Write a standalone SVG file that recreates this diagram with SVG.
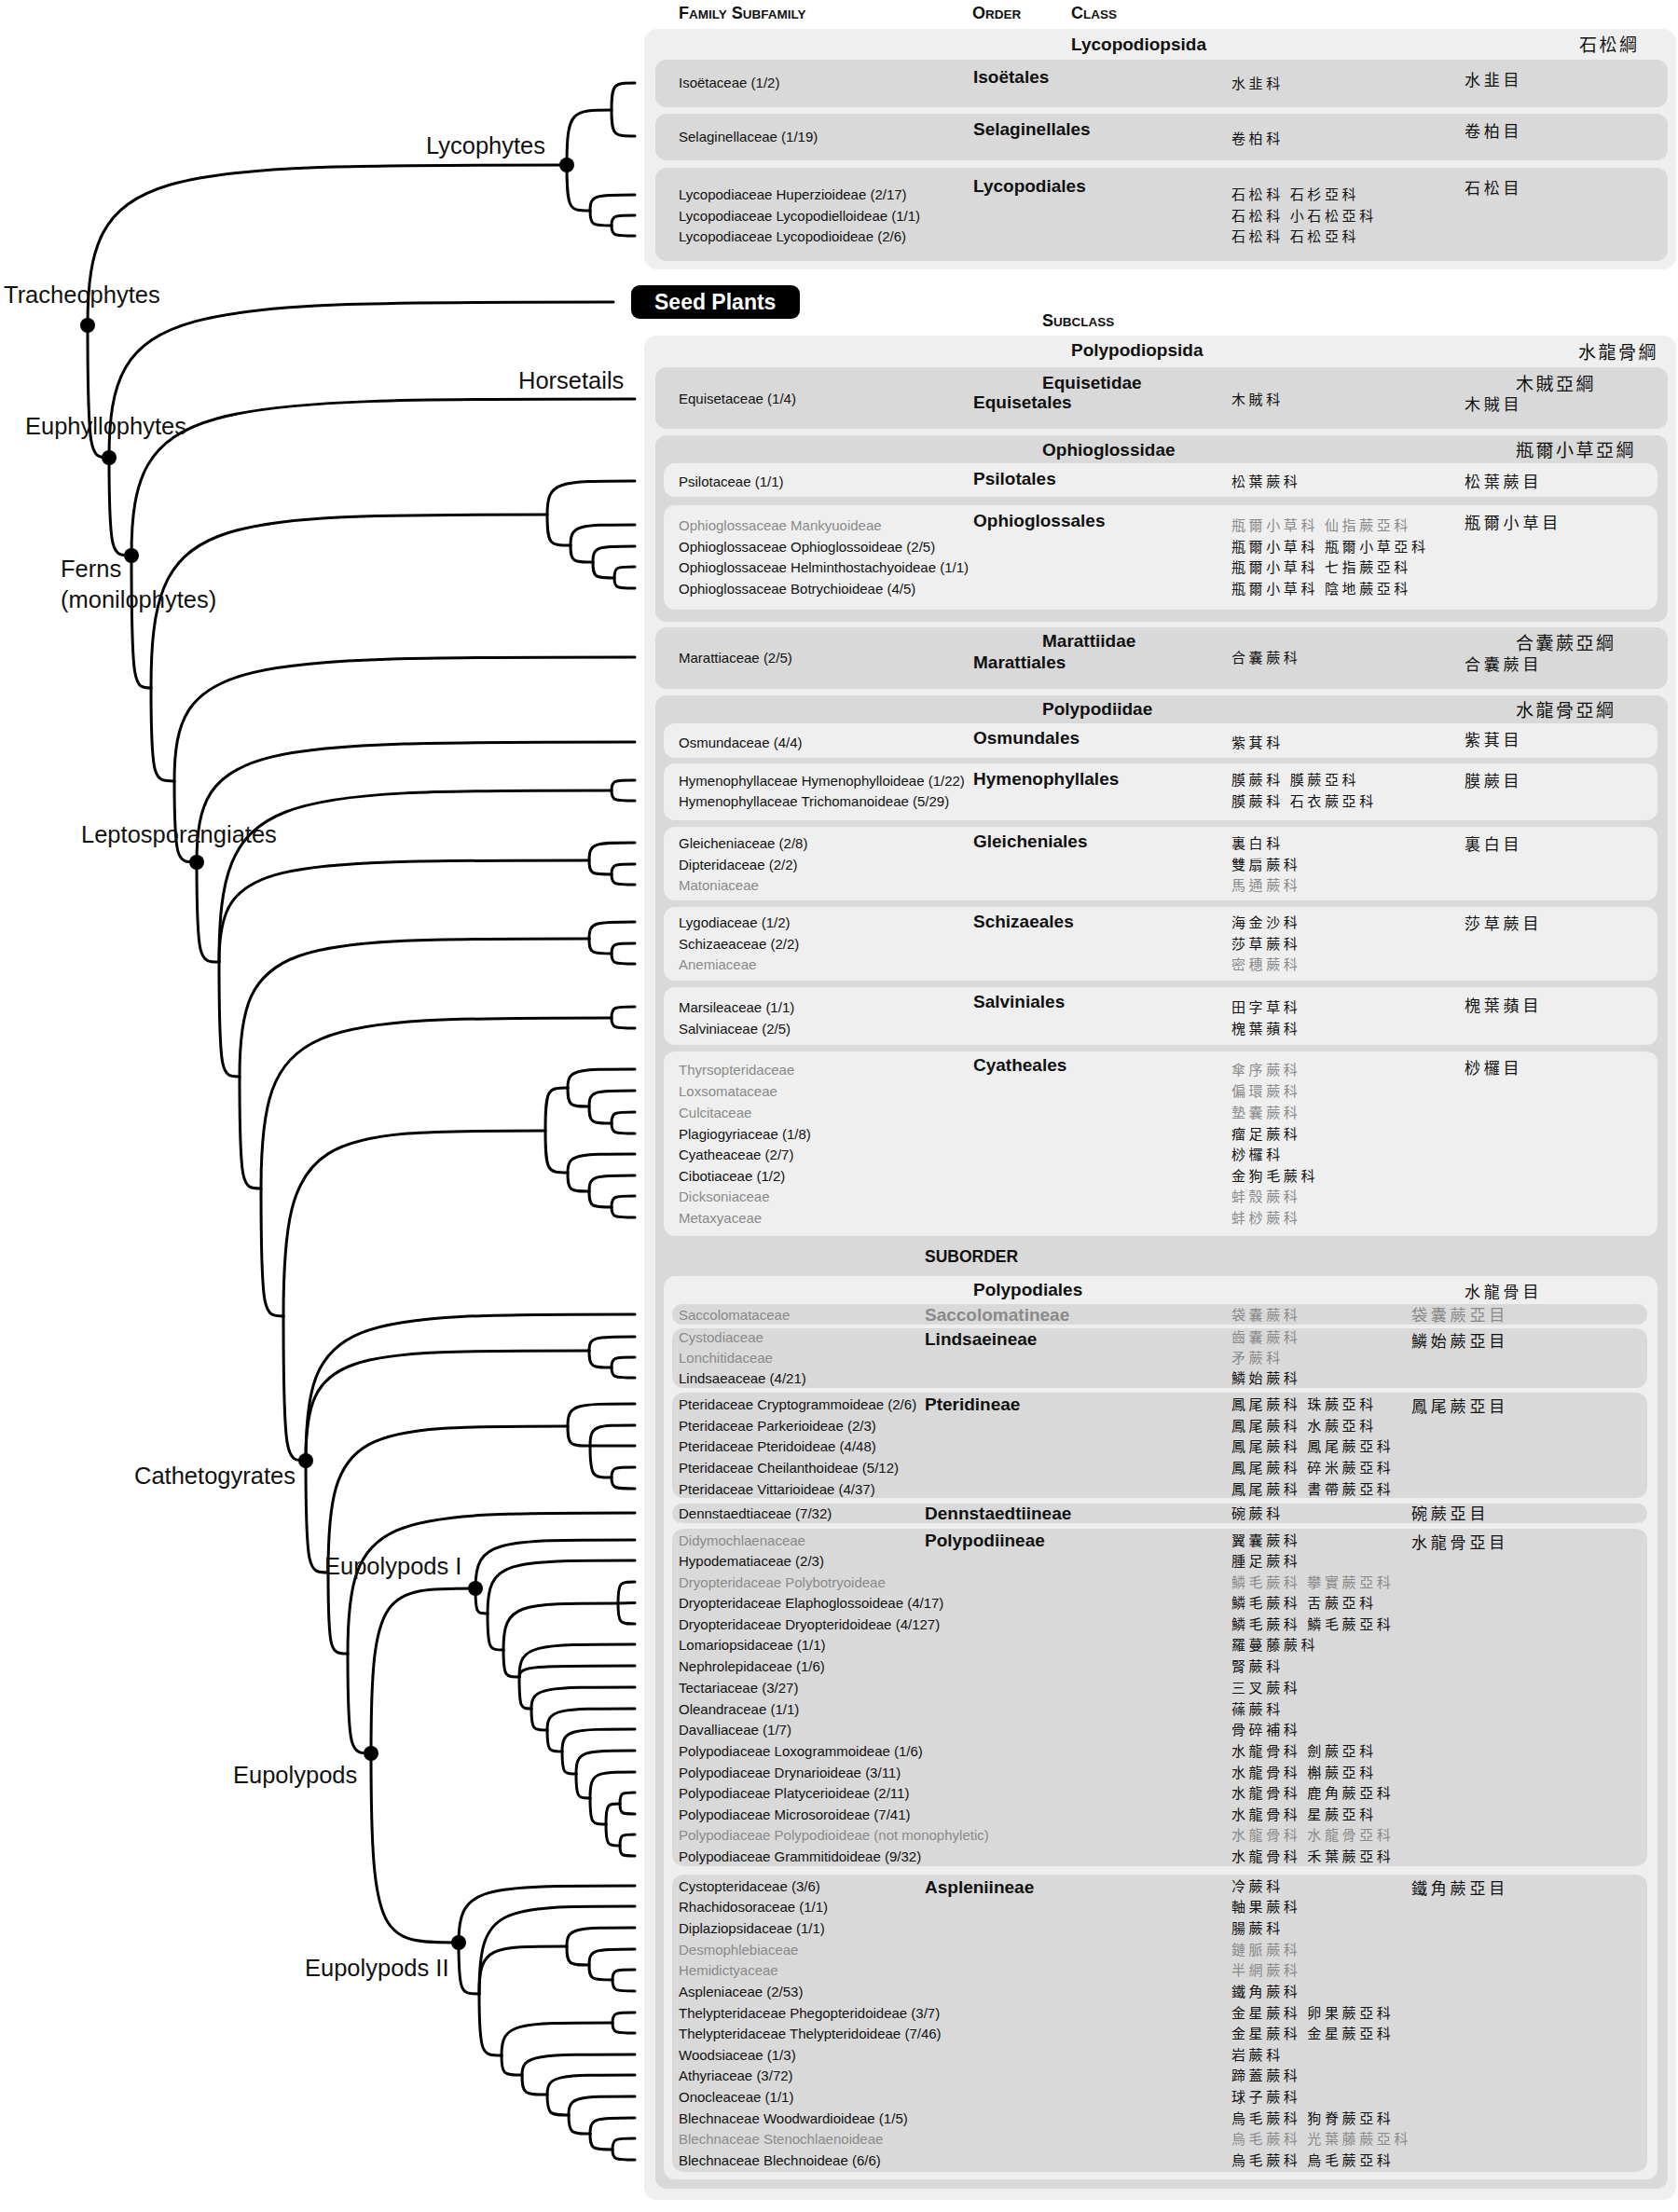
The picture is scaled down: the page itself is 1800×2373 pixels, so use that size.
<svg xmlns="http://www.w3.org/2000/svg" width="1800" height="2373" viewBox="0 0 1800 2373">
<style>
.e{fill:none;stroke:#000;stroke-width:3;stroke-linecap:round}
.dot{fill:#000}
.lab{font-family:"Liberation Sans",Arial,sans-serif;font-size:25.5px;fill:#111}
.f{font-family:"Liberation Sans",Arial,sans-serif;font-size:15px;fill:#111}
.o{font-family:"Liberation Sans",Arial,sans-serif;font-size:19px;font-weight:bold;fill:#111}
.c{font-family:"Noto Sans CJK TC","Noto Sans CJK SC",sans-serif;font-size:15px;letter-spacing:3.6px;fill:#111}
.co{font-family:"Noto Sans CJK TC","Noto Sans CJK SC",sans-serif;font-size:17px;letter-spacing:3.8px;fill:#111}
.cc{font-family:"Noto Sans CJK TC","Noto Sans CJK SC",sans-serif;font-size:19px;letter-spacing:2.5px;fill:#111}
.h{font-family:"Liberation Sans",Arial,sans-serif;font-weight:bold;fill:#111}
.outer{fill:#efefef}
.dark{fill:#d9d9d9}
.light{fill:#efefef}
.gr{fill:#8a8a8a}
</style>
<rect width="1800" height="2373" fill="#fff"/>

<g id="boxes">
<rect class="outer" x="691" y="31" width="1107" height="258" rx="14"/>
<rect class="dark" x="703" y="64" width="1086" height="51" rx="12"/>
<rect class="dark" x="703" y="122" width="1086" height="50" rx="12"/>
<rect class="dark" x="703" y="180" width="1086" height="100" rx="12"/>
<rect class="outer" x="691" y="360" width="1107" height="2000" rx="14"/>
<rect class="dark" x="703" y="394" width="1086" height="66" rx="12"/>
<rect class="dark" x="703" y="467" width="1086" height="200" rx="12"/>
<rect class="light" x="712" y="497" width="1066" height="36" rx="12"/>
<rect class="light" x="712" y="542" width="1066" height="112" rx="12"/>
<rect class="dark" x="703" y="673" width="1086" height="66" rx="12"/>
<rect class="dark" x="703" y="746" width="1086" height="1602" rx="12"/>
<rect class="light" x="712" y="776" width="1066" height="37" rx="12"/>
<rect class="light" x="712" y="819" width="1066" height="61" rx="12"/>
<rect class="light" x="712" y="887" width="1066" height="79" rx="12"/>
<rect class="light" x="712" y="973" width="1066" height="79" rx="12"/>
<rect class="light" x="712" y="1059" width="1066" height="62" rx="12"/>
<rect class="light" x="712" y="1128" width="1066" height="198" rx="12"/>
<rect class="light" x="712" y="1369" width="1066" height="969" rx="12"/>
<rect class="dark" x="721" y="1399" width="1046" height="22" rx="11"/>
<rect class="dark" x="721" y="1425" width="1046" height="64" rx="12"/>
<rect class="dark" x="721" y="1494" width="1046" height="113" rx="12"/>
<rect class="dark" x="721" y="1613" width="1046" height="21" rx="10.5"/>
<rect class="dark" x="721" y="1640" width="1046" height="362" rx="12"/>
<rect class="dark" x="721" y="2011" width="1046" height="319" rx="12"/>
</g>

<g id="headers">
<text class="h" x="728" y="20"><tspan font-size="18">F</tspan><tspan font-size="13.5">AMILY</tspan><tspan font-size="18"> S</tspan><tspan font-size="13.5">UBFAMILY</tspan></text>
<text class="h" x="1043" y="20"><tspan font-size="18">O</tspan><tspan font-size="13.5">RDER</tspan></text>
<text class="h" x="1149" y="20"><tspan font-size="18">C</tspan><tspan font-size="13.5">LASS</tspan></text>
<text class="h" x="1118" y="350"><tspan font-size="18">S</tspan><tspan font-size="13.5">UBCLASS</tspan></text>
<text class="h" x="992" y="1354" font-size="17.5">SUBORDER</text>
</g>

<g id="seed-plants">
<rect x="677" y="306" width="181" height="36" rx="9" fill="#000"/>
<text class="h" x="702" y="332" font-size="23" style="fill:#fff">Seed Plants</text>
</g>

<g id="connectors">
<path class="e" d="M94 349 C94 177 155.7 177 608 177"/>
<path class="e" d="M94 349 C94 491 96.8 491 117 491"/>
<path class="e" d="M608 177 C608 118 613.8 118 656 118"/>
<path class="e" d="M608 177 C608 226 611 226 633 226"/>
<path class="e" d="M656 118 C656 89 659 89 681 89"/>
<path class="e" d="M656 118 C656 146 659 146 681 146"/>
<path class="e" d="M633 226 C633 209 638.8 209 681 209"/>
<path class="e" d="M633 226 C633 242 635.8 242 656 242"/>
<path class="e" d="M656 242 C656 231 659 231 681 231"/>
<path class="e" d="M656 242 C656 253 659 253 681 253"/>
<path class="e" d="M117 491 C117 324 182 324 658 324"/>
<path class="e" d="M117 491 C117 596 119.9 596 141 596"/>
<path class="e" d="M141 596 C141 428 205.8 428 681 428"/>
<path class="e" d="M141 596 C141 738 143.5 738 162 738"/>
<path class="e" d="M162 738 C162 552 213 552 587 552"/>
<path class="e" d="M162 738 C162 838 165 838 187 838"/>
<path class="e" d="M587 552 C587 516 598 516 681 516"/>
<path class="e" d="M587 552 C587 585 590 585 612 585"/>
<path class="e" d="M612 585 C612 563 620.3 563 681 563"/>
<path class="e" d="M612 585 C612 603 614.9 603 636 603"/>
<path class="e" d="M636 603 C636 586 641.4 586 681 586"/>
<path class="e" d="M636 603 C636 620 638.8 620 659 620"/>
<path class="e" d="M659 620 C659 608 661.6 608 681 608"/>
<path class="e" d="M659 620 C659 631 661.6 631 681 631"/>
<path class="e" d="M187 838 C187 705 246 705 681 705"/>
<path class="e" d="M187 838 C187 925 190 925 211 925"/>
<path class="e" d="M211 925 C211 796 267.4 796 681 796"/>
<path class="e" d="M211 925 C211 1032 214 1032 235 1032"/>
<path class="e" d="M235 1032 C235 848 285.5 848 656 848"/>
<path class="e" d="M656 848 C656 837 659 837 681 837"/>
<path class="e" d="M656 848 C656 859 659 859 681 859"/>
<path class="e" d="M235 1032 C235 923 282.6 923 632 923"/>
<path class="e" d="M632 923 C632 904 637.9 904 681 904"/>
<path class="e" d="M632 923 C632 938 634.9 938 656 938"/>
<path class="e" d="M656 938 C656 927 659 927 681 927"/>
<path class="e" d="M656 938 C656 949 659 949 681 949"/>
<path class="e" d="M235 1032 C235 1155 237.6 1155 257 1155"/>
<path class="e" d="M257 1155 C257 1007 302 1007 632 1007"/>
<path class="e" d="M632 1007 C632 989 637.9 989 681 989"/>
<path class="e" d="M632 1007 C632 1023 634.9 1023 656 1023"/>
<path class="e" d="M656 1023 C656 1012 659 1012 681 1012"/>
<path class="e" d="M656 1023 C656 1034 659 1034 681 1034"/>
<path class="e" d="M257 1155 C257 1275 259.8 1275 280 1275"/>
<path class="e" d="M280 1275 C280 1092 324.5 1092 656 1092"/>
<path class="e" d="M656 1092 C656 1080 659 1080 681 1080"/>
<path class="e" d="M656 1092 C656 1103 659 1103 681 1103"/>
<path class="e" d="M280 1275 C280 1412 282.9 1412 304 1412"/>
<path class="e" d="M304 1412 C304 1213 337.7 1213 585 1213"/>
<path class="e" d="M304 1412 C304 1567 306.9 1567 328 1567"/>
<path class="e" d="M585 1213 C585 1167 587.9 1167 609 1167"/>
<path class="e" d="M609 1167 C609 1147 617.6 1147 681 1147"/>
<path class="e" d="M609 1167 C609 1187 611.8 1187 632 1187"/>
<path class="e" d="M632 1187 C632 1170 637.9 1170 681 1170"/>
<path class="e" d="M632 1187 C632 1205 634.9 1205 656 1205"/>
<path class="e" d="M656 1205 C656 1193 659 1193 681 1193"/>
<path class="e" d="M656 1205 C656 1216 659 1216 681 1216"/>
<path class="e" d="M585 1213 C585 1258 587.9 1258 609 1258"/>
<path class="e" d="M609 1258 C609 1238 617.6 1238 681 1238"/>
<path class="e" d="M609 1258 C609 1278 611.8 1278 632 1278"/>
<path class="e" d="M632 1278 C632 1261 637.9 1261 681 1261"/>
<path class="e" d="M632 1278 C632 1295 634.9 1295 656 1295"/>
<path class="e" d="M656 1295 C656 1283 659 1283 681 1283"/>
<path class="e" d="M656 1295 C656 1306 659 1306 681 1306"/>
<path class="e" d="M328 1567 C328 1410 370.4 1410 681 1410"/>
<path class="e" d="M328 1567 C328 1449 364.5 1449 632 1449"/>
<path class="e" d="M632 1449 C632 1434 637.9 1434 681 1434"/>
<path class="e" d="M632 1449 C632 1467 634.9 1467 656 1467"/>
<path class="e" d="M656 1467 C656 1456 659 1456 681 1456"/>
<path class="e" d="M656 1467 C656 1478 659 1478 681 1478"/>
<path class="e" d="M328 1567 C328 1687 330.9 1687 352 1687"/>
<path class="e" d="M352 1687 C352 1530 382.8 1530 609 1530"/>
<path class="e" d="M609 1530 C609 1506 617.6 1506 681 1506"/>
<path class="e" d="M609 1530 C609 1551 611.9 1551 633 1551"/>
<path class="e" d="M633 1551 C633 1529 638.8 1529 681 1529"/>
<path class="e" d="M633 1551 L681 1551"/>
<path class="e" d="M633 1551 C633 1585 635.8 1585 656 1585"/>
<path class="e" d="M656 1585 C656 1574 659 1574 681 1574"/>
<path class="e" d="M656 1585 C656 1597 659 1597 681 1597"/>
<path class="e" d="M352 1687 C352 1774 354.5 1774 373 1774"/>
<path class="e" d="M373 1774 C373 1623 410 1623 681 1623"/>
<path class="e" d="M373 1774 C373 1881 376 1881 398 1881"/>
<path class="e" d="M398 1881 C398 1704 411.4 1704 510 1704"/>
<path class="e" d="M398 1881 C398 2084 409.3 2084 492 2084"/>
<path class="e" d="M510 1704 C510 1652 530.5 1652 681 1652"/>
<path class="e" d="M510 1704 C510 1731 511.6 1731 523 1731"/>
<path class="e" d="M523 1731 C523 1674 542 1674 681 1674"/>
<path class="e" d="M523 1731 C523 1770 525 1770 540 1770"/>
<path class="e" d="M540 1770 C540 1720 554.8 1720 663 1720"/>
<path class="e" d="M663 1720 C663 1697 665.2 1697 681 1697"/>
<path class="e" d="M663 1720 L681 1719.5"/>
<path class="e" d="M663 1720 C663 1742 665.2 1742 681 1742"/>
<path class="e" d="M540 1770 C540 1799 542 1799 557 1799"/>
<path class="e" d="M557 1799 C557 1764 571.9 1764 681 1764"/>
<path class="e" d="M557 1799 C557 1787 571.9 1787 681 1787"/>
<path class="e" d="M557 1799 C557 1833 558.6 1833 570 1833"/>
<path class="e" d="M570 1833 C570 1810 583.3 1810 681 1810"/>
<path class="e" d="M570 1833 C570 1856 572 1856 587 1856"/>
<path class="e" d="M587 1856 C587 1833 598.3 1833 681 1833"/>
<path class="e" d="M587 1856 C587 1879 589 1879 603 1879"/>
<path class="e" d="M603 1879 C603 1855 612.4 1855 681 1855"/>
<path class="e" d="M603 1879 C603 1903 605 1903 618 1903"/>
<path class="e" d="M618 1903 C618 1878 625.6 1878 681 1878"/>
<path class="e" d="M618 1903 C618 1929 620 1929 633 1929"/>
<path class="e" d="M633 1929 C633 1901 638.8 1901 681 1901"/>
<path class="e" d="M633 1929 C633 1957 635 1957 650 1957"/>
<path class="e" d="M650 1957 C650 1935 652 1935 665 1935"/>
<path class="e" d="M665 1935 C665 1923 667 1923 681 1923"/>
<path class="e" d="M665 1935 C665 1946 667 1946 681 1946"/>
<path class="e" d="M650 1957 C650 1980 652 1980 665 1980"/>
<path class="e" d="M665 1980 C665 1968 667 1968 681 1968"/>
<path class="e" d="M665 1980 C665 1991 667 1991 681 1991"/>
<path class="e" d="M492 2084 C492 2023 515.1 2023 681 2023"/>
<path class="e" d="M492 2084 C492 2139 494.6 2139 514 2139"/>
<path class="e" d="M514 2139 C514 2045 534 2045 681 2045"/>
<path class="e" d="M514 2139 C514 2088 525.3 2088 608 2088"/>
<path class="e" d="M514 2139 C514 2205 517 2205 538 2205"/>
<path class="e" d="M608 2088 C608 2068 616.8 2068 681 2068"/>
<path class="e" d="M608 2088 C608 2108 611 2108 632 2108"/>
<path class="e" d="M632 2108 C632 2091 637.9 2091 681 2091"/>
<path class="e" d="M632 2108 C632 2124 635 2124 657 2124"/>
<path class="e" d="M657 2124 C657 2113 660 2113 681 2113"/>
<path class="e" d="M657 2124 C657 2136 660 2136 681 2136"/>
<path class="e" d="M538 2205 C538 2170 552.2 2170 657 2170"/>
<path class="e" d="M657 2170 C657 2159 660 2159 681 2159"/>
<path class="e" d="M657 2170 C657 2181 660 2181 681 2181"/>
<path class="e" d="M538 2205 C538 2226 540.6 2226 560 2226"/>
<path class="e" d="M560 2226 C560 2204 574.5 2204 681 2204"/>
<path class="e" d="M560 2226 C560 2247 563 2247 587 2247"/>
<path class="e" d="M587 2247 C587 2226 598.3 2226 681 2226"/>
<path class="e" d="M587 2247 C587 2269 590 2269 610 2269"/>
<path class="e" d="M610 2269 C610 2249 618.5 2249 681 2249"/>
<path class="e" d="M610 2269 C610 2289 613 2289 633 2289"/>
<path class="e" d="M633 2289 C633 2272 638.8 2272 681 2272"/>
<path class="e" d="M633 2289 C633 2306 636 2306 657 2306"/>
<path class="e" d="M657 2306 C657 2294 660 2294 681 2294"/>
<path class="e" d="M657 2306 C657 2317 660 2317 681 2317"/>
</g>

<g id="nodes">
<circle class="dot" cx="94" cy="349" r="8"/>
<circle class="dot" cx="117" cy="491" r="8"/>
<circle class="dot" cx="141" cy="596" r="8"/>
<circle class="dot" cx="608" cy="177" r="8"/>
<circle class="dot" cx="211" cy="925" r="8"/>
<circle class="dot" cx="328" cy="1567" r="8"/>
<circle class="dot" cx="398" cy="1881" r="8"/>
<circle class="dot" cx="510" cy="1704" r="8"/>
<circle class="dot" cx="492" cy="2084" r="8"/>
</g>

<g id="clade-labels">
<text class="lab" x="457" y="164.5">Lycophytes</text>
<text class="lab" x="4" y="325">Tracheophytes</text>
<text class="lab" x="556" y="417">Horsetails</text>
<text class="lab" x="27" y="466">Euphyllophytes</text>
<text class="lab" x="65" y="619">Ferns</text>
<text class="lab" x="65" y="652">(monilophytes)</text>
<text class="lab" x="87" y="904">Leptosporangiates</text>
<text class="lab" x="144" y="1592">Cathetogyrates</text>
<text class="lab" x="348" y="1689">Eupolypods I</text>
<text class="lab" x="250" y="1913">Eupolypods</text>
<text class="lab" x="327" y="2120">Eupolypods II</text>
</g>

<g id="ranks">
<text class="o" x="1149" y="54">Lycopodiopsida</text>
<text class="cc" x="1694" y="55">石松綱</text>
<text class="o" x="1044" y="89">Isoëtales</text>
<text class="o" x="1044" y="145">Selaginellales</text>
<text class="o" x="1044" y="206">Lycopodiales</text>
<text class="co" x="1571" y="91.5">水韭目</text>
<text class="co" x="1571" y="146.5">卷柏目</text>
<text class="co" x="1571" y="207.5">石松目</text>

<text class="o" x="1149" y="382">Polypodiopsida</text>
<text class="cc" x="1693" y="385">水龍骨綱</text>
<text class="o" x="1118" y="417">Equisetidae</text>
<text class="cc" x="1626" y="419">木賊亞綱</text>
<text class="o" x="1044" y="438">Equisetales</text>
<text class="co" x="1571" y="439.5">木賊目</text>
<text class="o" x="1118" y="489">Ophioglossidae</text>
<text class="cc" x="1626" y="490">瓶爾小草亞綱</text>
<text class="o" x="1044" y="520">Psilotales</text>
<text class="co" x="1571" y="522.5">松葉蕨目</text>
<text class="o" x="1044" y="565">Ophioglossales</text>
<text class="co" x="1571" y="566.5">瓶爾小草目</text>
<text class="o" x="1118" y="694">Marattiidae</text>
<text class="cc" x="1626" y="697">合囊蕨亞綱</text>
<text class="o" x="1044" y="717">Marattiales</text>
<text class="co" x="1571" y="718.5">合囊蕨目</text>
<text class="o" x="1118" y="767">Polypodiidae</text>
<text class="cc" x="1626" y="769">水龍骨亞綱</text>
<text class="o" x="1044" y="798">Osmundales</text>
<text class="co" x="1571" y="799.5">紫萁目</text>
<text class="o" x="1044" y="842">Hymenophyllales</text>
<text class="co" x="1571" y="843.5">膜蕨目</text>
<text class="o" x="1044" y="909">Gleicheniales</text>
<text class="co" x="1571" y="911.5">裏白目</text>
<text class="o" x="1044" y="995">Schizaeales</text>
<text class="co" x="1571" y="996.5">莎草蕨目</text>
<text class="o" x="1044" y="1081">Salviniales</text>
<text class="co" x="1571" y="1084.5">槐葉蘋目</text>
<text class="o" x="1044" y="1149">Cyatheales</text>
<text class="co" x="1571" y="1151.5">桫欏目</text>
<text class="o" x="1044" y="1390">Polypodiales</text>
<text class="co" x="1571" y="1391.5">水龍骨目</text>
<text class="o gr" x="992" y="1417">Saccolomatineae</text>
<text class="co gr" x="1514" y="1416.5">袋囊蕨亞目</text>
<text class="o" x="992" y="1443">Lindsaeineae</text>
<text class="co" x="1514" y="1444.5">鱗始蕨亞目</text>
<text class="o" x="992" y="1513">Pteridineae</text>
<text class="co" x="1514" y="1514.5">鳳尾蕨亞目</text>
<text class="o" x="992" y="1630">Dennstaedtiineae</text>
<text class="co" x="1514" y="1629.5">碗蕨亞目</text>
<text class="o" x="992" y="1659">Polypodiineae</text>
<text class="co" x="1514" y="1660.5">水龍骨亞目</text>
<text class="o" x="992" y="2031">Aspleniineae</text>
<text class="co" x="1514" y="2031.5">鐵角蕨亞目</text>
</g>

<g id="families">
<text class="f" x="728" y="93.5">Isoëtaceae (1/2)</text><text class="c" x="1321" y="94.5">水韭科</text>
<text class="f" x="728" y="151.5">Selaginellaceae (1/19)</text><text class="c" x="1321" y="153.5">卷柏科</text>
<text class="f" x="728" y="213.5">Lycopodiaceae Huperzioideae (2/17)</text><text class="c" x="1321" y="213.5">石松科 石杉亞科</text>
<text class="f" x="728" y="236.5">Lycopodiaceae Lycopodielloideae (1/1)</text><text class="c" x="1321" y="236.5">石松科 小石松亞科</text>
<text class="f" x="728" y="258.5">Lycopodiaceae Lycopodioideae (2/6)</text><text class="c" x="1321" y="258.5">石松科 石松亞科</text>

<text class="f" x="728" y="432.5">Equisetaceae (1/4)</text><text class="c" x="1321" y="433.5">木賊科</text>
<text class="f" x="728" y="521.5">Psilotaceae (1/1)</text><text class="c" x="1321" y="521.5">松葉蕨科</text>
<text class="f gr" x="728" y="568.5">Ophioglossaceae Mankyuoideae</text><text class="c gr" x="1321" y="568.5">瓶爾小草科 仙指蕨亞科</text>
<text class="f" x="728" y="591.5">Ophioglossaceae Ophioglossoideae (2/5)</text><text class="c" x="1321" y="591.5">瓶爾小草科 瓶爾小草亞科</text>
<text class="f" x="728" y="613.5">Ophioglossaceae Helminthostachyoideae (1/1)</text><text class="c" x="1321" y="613.5">瓶爾小草科 七指蕨亞科</text>
<text class="f" x="728" y="636.5">Ophioglossaceae Botrychioideae (4/5)</text><text class="c" x="1321" y="636.5">瓶爾小草科 陰地蕨亞科</text>
<text class="f" x="728" y="710.5">Marattiaceae (2/5)</text><text class="c" x="1321" y="710.5">合囊蕨科</text>

<text class="f" x="728" y="801.5">Osmundaceae (4/4)</text><text class="c" x="1321" y="801.5">紫萁科</text>
<text class="f" x="728" y="842.5">Hymenophyllaceae Hymenophylloideae (1/22)</text><text class="c" x="1321" y="841.5">膜蕨科 膜蕨亞科</text>
<text class="f" x="728" y="864.5">Hymenophyllaceae Trichomanoideae (5/29)</text><text class="c" x="1321" y="864.5">膜蕨科 石衣蕨亞科</text>
<text class="f" x="728" y="909.5">Gleicheniaceae (2/8)</text><text class="c" x="1321" y="909.5">裏白科</text>
<text class="f" x="728" y="932.5">Dipteridaceae (2/2)</text><text class="c" x="1321" y="932.5">雙扇蕨科</text>
<text class="f gr" x="728" y="954.5">Matoniaceae</text><text class="c gr" x="1321" y="954.5">馬通蕨科</text>
<text class="f" x="728" y="994.5">Lygodiaceae (1/2)</text><text class="c" x="1321" y="994.5">海金沙科</text>
<text class="f" x="728" y="1017.5">Schizaeaceae (2/2)</text><text class="c" x="1321" y="1017.5">莎草蕨科</text>
<text class="f gr" x="728" y="1039.5">Anemiaceae</text><text class="c gr" x="1321" y="1039.5">密穗蕨科</text>
<text class="f" x="728" y="1085.5">Marsileaceae (1/1)</text><text class="c" x="1321" y="1085.5">田字草科</text>
<text class="f" x="728" y="1108.5">Salviniaceae (2/5)</text><text class="c" x="1321" y="1108.5">槐葉蘋科</text>
<text class="f gr" x="728" y="1152.5">Thyrsopteridaceae</text><text class="c gr" x="1321" y="1152.5">傘序蕨科</text>
<text class="f gr" x="728" y="1175.5">Loxsomataceae</text><text class="c gr" x="1321" y="1175.5">偏環蕨科</text>
<text class="f gr" x="728" y="1198.5">Culcitaceae</text><text class="c gr" x="1321" y="1198.5">墊囊蕨科</text>
<text class="f" x="728" y="1221.5">Plagiogyriaceae (1/8)</text><text class="c" x="1321" y="1221.5">瘤足蕨科</text>
<text class="f" x="728" y="1243.5">Cyatheaceae (2/7)</text><text class="c" x="1321" y="1243.5">桫欏科</text>
<text class="f" x="728" y="1266.5">Cibotiaceae (1/2)</text><text class="c" x="1321" y="1266.5">金狗毛蕨科</text>
<text class="f gr" x="728" y="1288.5">Dicksoniaceae</text><text class="c gr" x="1321" y="1288.5">蚌殼蕨科</text>
<text class="f gr" x="728" y="1311.5">Metaxyaceae</text><text class="c gr" x="1321" y="1311.5">蚌桫蕨科</text>

<text class="f gr" x="728" y="1415.5">Saccolomataceae</text><text class="c gr" x="1321" y="1415.5">袋囊蕨科</text>
<text class="f gr" x="728" y="1439.5">Cystodiaceae</text><text class="c gr" x="1321" y="1439.5">齒囊蕨科</text>
<text class="f gr" x="728" y="1461.5">Lonchitidaceae</text><text class="c gr" x="1321" y="1461.5">矛蕨科</text>
<text class="f" x="728" y="1483.5">Lindsaeaceae (4/21)</text><text class="c" x="1321" y="1483.5">鱗始蕨科</text>
<text class="f" x="728" y="1511.5">Pteridaceae Cryptogrammoideae (2/6)</text><text class="c" x="1321" y="1511.5">鳳尾蕨科 珠蕨亞科</text>
<text class="f" x="728" y="1534.5">Pteridaceae Parkerioideae (2/3)</text><text class="c" x="1321" y="1534.5">鳳尾蕨科 水蕨亞科</text>
<text class="f" x="728" y="1556.5">Pteridaceae Pteridoideae (4/48)</text><text class="c" x="1321" y="1556.5">鳳尾蕨科 鳳尾蕨亞科</text>
<text class="f" x="728" y="1579.5">Pteridaceae Cheilanthoideae (5/12)</text><text class="c" x="1321" y="1579.5">鳳尾蕨科 碎米蕨亞科</text>
<text class="f" x="728" y="1602.5">Pteridaceae Vittarioideae (4/37)</text><text class="c" x="1321" y="1602.5">鳳尾蕨科 書帶蕨亞科</text>
<text class="f" x="728" y="1628.5">Dennstaedtiaceae (7/32)</text><text class="c" x="1321" y="1628.5">碗蕨科</text>

<text class="f gr" x="728" y="1657.5">Didymochlaenaceae</text><text class="c" x="1321" y="1657.5">翼囊蕨科</text>
<text class="f" x="728" y="1679.5">Hypodematiaceae (2/3)</text><text class="c" x="1321" y="1679.5">腫足蕨科</text>
<text class="f gr" x="728" y="1702.5">Dryopteridaceae Polybotryoideae</text><text class="c gr" x="1321" y="1702.5">鱗毛蕨科 攀實蕨亞科</text>
<text class="f" x="728" y="1724.5">Dryopteridaceae Elaphoglossoideae (4/17)</text><text class="c" x="1321" y="1724.5">鱗毛蕨科 舌蕨亞科</text>
<text class="f" x="728" y="1747.5">Dryopteridaceae Dryopteridoideae (4/127)</text><text class="c" x="1321" y="1747.5">鱗毛蕨科 鱗毛蕨亞科</text>
<text class="f" x="728" y="1769.5">Lomariopsidaceae (1/1)</text><text class="c" x="1321" y="1769.5">羅蔓藤蕨科</text>
<text class="f" x="728" y="1792.5">Nephrolepidaceae (1/6)</text><text class="c" x="1321" y="1792.5">腎蕨科</text>
<text class="f" x="728" y="1815.5">Tectariaceae (3/27)</text><text class="c" x="1321" y="1815.5">三叉蕨科</text>
<text class="f" x="728" y="1838.5">Oleandraceae (1/1)</text><text class="c" x="1321" y="1838.5">蓧蕨科</text>
<text class="f" x="728" y="1860.5">Davalliaceae (1/7)</text><text class="c" x="1321" y="1860.5">骨碎補科</text>
<text class="f" x="728" y="1883.5">Polypodiaceae Loxogrammoideae (1/6)</text><text class="c" x="1321" y="1883.5">水龍骨科 劍蕨亞科</text>
<text class="f" x="728" y="1906.5">Polypodiaceae Drynarioideae (3/11)</text><text class="c" x="1321" y="1906.5">水龍骨科 槲蕨亞科</text>
<text class="f" x="728" y="1928.5">Polypodiaceae Platycerioideae (2/11)</text><text class="c" x="1321" y="1928.5">水龍骨科 鹿角蕨亞科</text>
<text class="f" x="728" y="1951.5">Polypodiaceae Microsoroideae (7/41)</text><text class="c" x="1321" y="1951.5">水龍骨科 星蕨亞科</text>
<text class="f gr" x="728" y="1973.5">Polypodiaceae Polypodioideae (not monophyletic)</text><text class="c gr" x="1321" y="1973.5">水龍骨科 水龍骨亞科</text>
<text class="f" x="728" y="1996.5">Polypodiaceae Grammitidoideae (9/32)</text><text class="c" x="1321" y="1996.5">水龍骨科 禾葉蕨亞科</text>

<text class="f" x="728" y="2028.5">Cystopteridaceae (3/6)</text><text class="c" x="1321" y="2028.5">冷蕨科</text>
<text class="f" x="728" y="2050.5">Rhachidosoraceae (1/1)</text><text class="c" x="1321" y="2050.5">軸果蕨科</text>
<text class="f" x="728" y="2073.5">Diplaziopsidaceae (1/1)</text><text class="c" x="1321" y="2073.5">腸蕨科</text>
<text class="f gr" x="728" y="2096.5">Desmophlebiaceae</text><text class="c gr" x="1321" y="2096.5">鏈脈蕨科</text>
<text class="f gr" x="728" y="2118.5">Hemidictyaceae</text><text class="c gr" x="1321" y="2118.5">半網蕨科</text>
<text class="f" x="728" y="2141.5">Aspleniaceae (2/53)</text><text class="c" x="1321" y="2141.5">鐵角蕨科</text>
<text class="f" x="728" y="2164.5">Thelypteridaceae Phegopteridoideae (3/7)</text><text class="c" x="1321" y="2164.5">金星蕨科 卵果蕨亞科</text>
<text class="f" x="728" y="2186.5">Thelypteridaceae Thelypteridoideae (7/46)</text><text class="c" x="1321" y="2186.5">金星蕨科 金星蕨亞科</text>
<text class="f" x="728" y="2209.5">Woodsiaceae (1/3)</text><text class="c" x="1321" y="2209.5">岩蕨科</text>
<text class="f" x="728" y="2231.5">Athyriaceae (3/72)</text><text class="c" x="1321" y="2231.5">蹄蓋蕨科</text>
<text class="f" x="728" y="2254.5">Onocleaceae (1/1)</text><text class="c" x="1321" y="2254.5">球子蕨科</text>
<text class="f" x="728" y="2277.5">Blechnaceae Woodwardioideae (1/5)</text><text class="c" x="1321" y="2277.5">烏毛蕨科 狗脊蕨亞科</text>
<text class="f gr" x="728" y="2299.5">Blechnaceae Stenochlaenoideae</text><text class="c gr" x="1321" y="2299.5">烏毛蕨科 光葉藤蕨亞科</text>
<text class="f" x="728" y="2322.5">Blechnaceae Blechnoideae (6/6)</text><text class="c" x="1321" y="2322.5">烏毛蕨科 烏毛蕨亞科</text>
</g>
</svg>
